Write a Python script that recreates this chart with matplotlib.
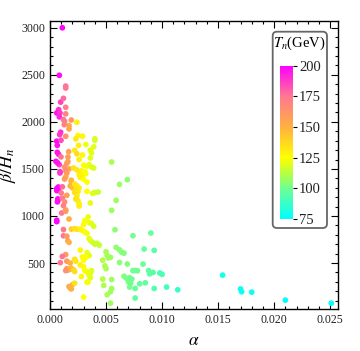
import matplotlib
matplotlib.use("Agg")
import matplotlib.pyplot as plt
from matplotlib.colors import LinearSegmentedColormap, Normalize
from matplotlib.patches import FancyBboxPatch
from matplotlib.ticker import MultipleLocator

# ---- data ----
# magenta / pink column (high Tn)
alpha_pink = [0.0011, 0.00083, 0.00095, 0.00077, 0.0006, 0.00089, 0.00083, 0.00095,
              0.00086, 0.0006, 0.00098, 0.00065, 0.00065, 0.00077, 0.00053, 0.00083,
              0.0009, 0.00089, 0.00074, 0.00074, 0.0007, 0.0007, 0.0006, 0.0006,
              0.00068, 0.0006, 0.00066, 0.0006]
beta_pink = [3000, 2495, 2210, 2130, 2095, 2095, 2053, 1890,
             1865, 1795, 1805, 1750, 1677, 1655, 1581, 1545,
             1470, 1457, 1308, 1272, 1182, 1165, 955, 940,
             1564, 1290, 1150, 1270]
tn_pink = [200, 198, 186, 190, 196, 188, 192, 190,
           188, 198, 184, 196, 196, 194, 198, 186,
           190, 188, 198, 198, 198, 198, 200, 200,
           196, 199, 197, 198]

# salmon / orange
alpha_orange = [0.0014, 0.0014, 0.0012, 0.0014, 0.0014, 0.0012, 0.0013, 0.0019,
                0.00127, 0.0017, 0.0017, 0.0014, 0.00166, 0.0016, 0.0015, 0.00098,
                0.0016, 0.0013, 0.0017, 0.0014, 0.0015, 0.0014, 0.0013, 0.0019,
                0.0019, 0.0011, 0.0018, 0.0020, 0.0010, 0.0015, 0.0011, 0.0013,
                0.0012, 0.00104, 0.0014, 0.0014, 0.0017, 0.0012, 0.0012, 0.0015,
                0.0016, 0.0017, 0.0014, 0.0011, 0.00092, 0.0015, 0.0018, 0.0015,
                0.0016, 0.0018, 0.0019, 0.0014, 0.0017, 0.0018, 0.0019, 0.0020]
beta_orange = [2380, 2360, 2250, 2155, 2085, 2025, 2006, 2020,
               1970, 1960, 1925, 1847, 1683, 1627, 1560, 1628,
               1578, 1520, 1500, 1480, 1455, 1415, 1393, 1380,
               1365, 1310, 1320, 1300, 1245, 1220, 1190, 1150,
               1110, 1032, 1050, 1065, 968, 856, 790, 785,
               735, 720, 590, 570, 504, 520, 500, 440,
               425, 435, 445, 420, 250, 235, 225, 270]
tn_orange = [176, 176, 178, 172, 170, 176, 174, 160,
             170, 155, 155, 163, 155, 158, 160, 175,
             157, 162, 155, 165, 160, 155, 158, 148,
             148, 178, 150, 145, 175, 158, 175, 165,
             172, 175, 158, 160, 150, 175, 175, 160,
             158, 150, 160, 176, 175, 160, 150, 160,
             158, 150, 148, 163, 155, 150, 150, 148]

# yellow cluster
alpha_yellow = [0.0024, 0.0025, 0.0029, 0.0023, 0.0040, 0.0040, 0.00255, 0.0032,
                0.0039, 0.0036, 0.0037, 0.0022, 0.0024, 0.0029, 0.0036, 0.0026,
                0.0030, 0.0033, 0.0035, 0.0037, 0.0021, 0.0024, 0.0039, 0.0028,
                0.0031, 0.0026, 0.0029, 0.0032, 0.0027, 0.0030, 0.0033, 0.0022,
                0.0024, 0.0026, 0.0023, 0.0025, 0.0033, 0.0038, 0.0040, 0.0043,
                0.0022, 0.0024, 0.0023, 0.0025, 0.0026, 0.0026, 0.0036, 0.0034,
                0.0031, 0.0035, 0.0037, 0.0039, 0.0030, 0.0019, 0.0022, 0.0024,
                0.0027, 0.0029, 0.0031, 0.0033, 0.0035, 0.0036, 0.0038, 0.0040,
                0.0042, 0.0044, 0.0027, 0.0033, 0.0035, 0.0032, 0.0029, 0.0030,
                0.0022, 0.0023, 0.0027, 0.0030, 0.0021, 0.0022, 0.0031, 0.0033,
                0.0036, 0.0037, 0.0028, 0.0034, 0.0035, 0.0036, 0.0022, 0.0034,
                0.0033, 0.0030]
beta_yellow = [1996, 1855, 1847, 1820, 1820, 1805, 1750, 1760,
               1735, 1700, 1670, 1697, 1660, 1648, 1617, 1600,
               1540, 1530, 1545, 1520, 1510, 1490, 1510, 1480,
               1470, 1440, 1430, 1450, 1410, 1390, 1360, 1340,
               1320, 1300, 1280, 1260, 1262, 1240, 1250, 1255,
               1250, 1215, 1180, 1160, 1130, 1105, 1138, 990,
               950, 930, 920, 890, 910, 860, 865, 860,
               860, 845, 830, 815, 760, 740, 720, 700,
               710, 690, 638, 610, 580, 560, 565, 530,
               540, 520, 480, 460, 430, 410, 420, 410,
               390, 420, 357, 390, 370, 345, 286, 300,
               296, 138]
tn_yellow = [130, 128, 128, 132, 118, 118, 130, 122,
             120, 120, 120, 132, 135, 128, 120, 130,
             125, 124, 122, 120, 135, 132, 118, 128,
             125, 130, 128, 124, 130, 125, 124, 132,
             132, 130, 135, 132, 125, 120, 118, 116,
             135, 132, 134, 132, 130, 130, 120, 122,
             124, 122, 120, 118, 126, 140, 136, 133,
             130, 128, 126, 124, 120, 120, 118, 116,
             116, 115, 128, 122, 120, 124, 126, 125,
             135, 133, 130, 127, 138, 136, 125, 123,
             120, 119, 128, 122, 121, 120, 134, 122,
             123, 125]

# green cloud
alpha_green = [0.0055, 0.0069, 0.0062, 0.0059, 0.0055, 0.0058, 0.0074, 0.0090,
               0.0059, 0.0062, 0.0064, 0.0066, 0.0084, 0.0093, 0.0050, 0.0051,
               0.0052, 0.0054, 0.0062, 0.0069, 0.0083, 0.0047, 0.0049, 0.0050,
               0.0074, 0.0076, 0.0078, 0.0088, 0.0089, 0.0092, 0.0098, 0.0100,
               0.0047, 0.0055, 0.0066, 0.0068, 0.0071, 0.0073, 0.0070, 0.0072,
               0.0071, 0.0076, 0.0080, 0.0085, 0.0093, 0.0104, 0.0048, 0.0055,
               0.0054, 0.0051, 0.0076, 0.0054]
beta_green = [1574, 1386, 1336, 1166, 1060, 854, 790, 819,
              666, 640, 615, 605, 649, 635, 620, 580,
              555, 560, 506, 490, 489, 530, 470, 440,
              420, 420, 418, 420, 385, 400, 395, 380,
              330, 325, 360, 340, 345, 330, 300, 285,
              245, 230, 280, 290, 230, 245, 262, 230,
              195, 163, 128, 74]
tn_green = [110, 105, 108, 108, 108, 105, 100, 98,
            106, 105, 104, 103, 98, 95, 110, 110,
            109, 108, 105, 103, 98, 112, 111, 110,
            100, 100, 99, 97, 96, 95, 93, 92,
            112, 108, 103, 102, 101, 100, 101, 100,
            101, 98, 98, 96, 94, 90, 111, 108,
            108, 110, 96, 108]

# cyan tail (large alpha)
alpha_cyan = [0.0114, 0.0154, 0.0170, 0.0171, 0.0180, 0.0210, 0.0251]
beta_cyan = [216, 372, 225, 195, 191, 106, 74]
tn_cyan = [88, 80, 78, 78, 78, 76, 75]

cbar_ticks = [75, 100, 125, 150, 175, 200]

alpha = alpha_pink + alpha_orange + alpha_yellow + alpha_green + alpha_cyan
beta = beta_pink + beta_orange + beta_yellow + beta_green + beta_cyan
tn = tn_pink + tn_orange + tn_yellow + tn_green + tn_cyan

plt.rcParams['mathtext.fontset'] = 'stix'
plt.rcParams['font.family'] = 'Liberation Serif'

cmap = LinearSegmentedColormap.from_list(
    "tn",
    [(0.0, "#00ffff"), (0.2, "#70ff90"), (0.3, "#b8ff40"), (0.4, "#ffff00"),
     (0.6, "#ffb040"), (0.8, "#ff7890"), (1.0, "#ff00ff")])
norm = Normalize(vmin=75, vmax=200)

fig = plt.figure(figsize=(3.6, 3.51), dpi=100)
ax = fig.add_axes([0.1389, 0.1197, 0.8, 0.8205])

sc = ax.scatter(alpha, beta, c=tn, cmap=cmap, norm=norm, s=17, linewidths=0, zorder=3)

ax.set_xlim(0, 0.0257)
ax.set_ylim(12, 3072)
ax.xaxis.set_major_locator(MultipleLocator(0.005))
ax.xaxis.set_minor_locator(MultipleLocator(0.001))
ax.yaxis.set_major_locator(MultipleLocator(500))
ax.yaxis.set_minor_locator(MultipleLocator(100))
ax.set_yticks([500, 1000, 1500, 2000, 2500, 3000])
ax.set_xticks([0, 0.005, 0.01, 0.015, 0.02, 0.025])
ax.set_xticklabels(["0.000", "0.005", "0.010", "0.015", "0.020", "0.025"])
ax.tick_params(which='both', direction='in', top=True, right=True,
               labelsize=8.5, labelcolor='#222222', width=0.8)
ax.tick_params(which='major', length=5)
ax.tick_params(which='minor', length=2.5)
for sp in ax.spines.values():
    sp.set_linewidth(1.0)

ax.set_xlabel(r'$\alpha$', fontsize=12.5, labelpad=5)
ax.set_ylabel(r'$\beta/H_n$', fontsize=13, labelpad=2)

# legend box with colour bar
box = FancyBboxPatch((0.7575, 0.3504), 0.1508, 0.5593, transform=fig.transFigure,
                     boxstyle="round,pad=0,rounding_size=0.012",
                     facecolor='white', edgecolor='#666666', linewidth=1.3, zorder=2)
fig.add_artist(box)

cax = fig.add_axes([0.7778, 0.376, 0.037, 0.4368])
cax.set_zorder(3)
cb = fig.colorbar(sc, cax=cax, ticks=cbar_ticks)
cb.outline.set_visible(False)
cax.tick_params(direction='out', length=3, width=0.8, labelsize=10.5,
                labelcolor='#222222', pad=1)

fig.text(0.832, 0.877, r'$T_n$(GeV)', fontsize=10.5, ha='center', va='center', zorder=4)

plt.savefig("out.png", dpi=100)
